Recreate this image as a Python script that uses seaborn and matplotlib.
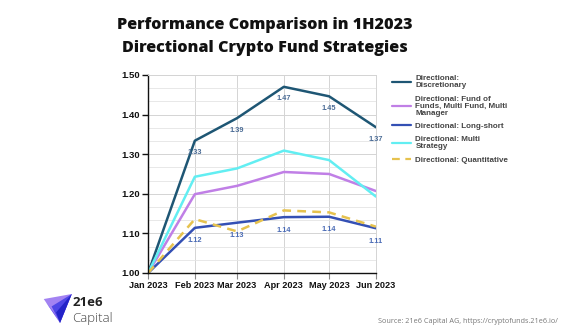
import matplotlib
matplotlib.use("Agg")
import matplotlib.pyplot as plt
from matplotlib.ticker import MultipleLocator
from matplotlib.patches import Polygon
import seaborn as sns
import pandas as pd
import numpy as np

months = ["2023-01-01", "2023-02-01", "2023-03-01", "2023-04-01", "2023-05-01", "2023-06-01"]
month_labels = ["Jan 2023", "Feb 2023", "Mar 2023", "Apr 2023", "May 2023", "Jun 2023"]
discretionary = [1.00, 1.334, 1.391, 1.470, 1.446, 1.368]
fund_of_funds = [1.00, 1.199, 1.220, 1.255, 1.250, 1.207]
long_short = [1.00, 1.114, 1.127, 1.141, 1.142, 1.113]
multi_strategy = [1.00, 1.243, 1.264, 1.309, 1.285, 1.193]
quantitative = [1.00, 1.136, 1.105, 1.158, 1.153, 1.117]
disc_labels = ["", "1.33", "1.39", "1.47", "1.45", "1.37"]
ls_labels = ["", "1.12", "1.13", "1.14", "1.14", "1.11"]

series_names = [
    "Directional:\nDiscretionary",
    "Directional: Fund of\nFunds, Multi Fund, Multi\nManager",
    "Directional: Long-short",
    "Directional: Multi\nStrategy",
    "Directional: Quantitative",
]
series_vals = [discretionary, fund_of_funds, long_short, multi_strategy, quantitative]
colors = ["#1e5674", "#c07fe6", "#3450b4", "#62eef2", "#e6c24e"]

dates = pd.to_datetime(months)
rows = []
for name, vals in zip(series_names, series_vals):
    for d, v in zip(dates, vals):
        rows.append({"date": d, "value": v, "series": name})
df = pd.DataFrame(rows)

sns.set_theme(style="white")
plt.rcParams['font.family'] = ['Liberation Sans', 'DejaVu Sans']

fig = plt.figure(figsize=(5.61, 3.36), dpi=100)
ax = fig.add_axes([0.264, 0.1875, 0.406, 0.5895])

dash_map = {n: "" for n in series_names}
dash_map[series_names[4]] = (3.5, 2.5)
sns.lineplot(data=df, x="date", y="value", hue="series", style="series",
             palette=dict(zip(series_names, colors)), dashes=dash_map,
             linewidth=1.8, ax=ax, legend=True)

ax.set_xlim(dates[0], dates[-1])
ax.set_ylim(1.0, 1.5)
ax.set_xticks(dates)
ax.set_xticklabels(month_labels, fontsize=6.6, fontweight="bold", color="#111111")
ax.yaxis.set_minor_locator(MultipleLocator(0.1 / 3))
ax.set_yticks(np.arange(1.0, 1.51, 0.1))
ax.set_yticklabels([f"{v:.2f}" for v in np.arange(1.0, 1.51, 0.1)],
                   fontsize=6.8, fontweight="bold", color="#111111")
ax.set_xlabel("")
ax.set_ylabel("")
ax.grid(True, which="major", color="#d4d4d4", linewidth=0.7)
ax.grid(True, which="minor", axis="y", color="#e4e4e4", linewidth=0.6)
ax.tick_params(axis="y", which="major", direction="out", length=4, width=1, color="#111111", pad=2)
ax.tick_params(axis="x", which="major", direction="out", length=4, width=0.8, color="#888888", pad=2)
ax.tick_params(which="minor", length=0)
ax.tick_params(axis="y", which="major", left=True)
ax.tick_params(axis="x", which="major", bottom=True)
for s in ["top", "right"]:
    ax.spines[s].set_color("#d4d4d4")
    ax.spines[s].set_linewidth(0.7)
ax.spines["left"].set_color("#111111")
ax.spines["bottom"].set_color("#111111")
ax.spines["left"].set_linewidth(1.0)
ax.spines["bottom"].set_linewidth(1.0)

for d, v, t in zip(dates, discretionary, disc_labels):
    if t:
        ax.annotate(t, (d, v), xytext=(0, -12), textcoords="offset pixels",
                    ha="center", va="center", fontsize=5.3, fontweight="bold", color="#4a6b95",
                    annotation_clip=False)
for d, v, t in zip(dates, long_short, ls_labels):
    if t:
        ax.annotate(t, (d, v), xytext=(0, -13), textcoords="offset pixels",
                    ha="center", va="center", fontsize=5.3, fontweight="bold", color="#4a6bb5",
                    annotation_clip=False)

handles, labels = ax.get_legend_handles_labels()
ax.legend_.remove()
leg = fig.legend(handles, labels, loc="upper left", bbox_to_anchor=(0.693, 0.785),
                 frameon=False, fontsize=5.8, handlelength=2.3, handletextpad=0.6,
                 labelspacing=0.75, borderaxespad=0)
for t in leg.get_texts():
    t.set_fontweight("bold")
    t.set_color("#444444")
    t.set_linespacing(1.0)
for h in leg.get_lines():
    h.set_linewidth(1.6)

fig.text(0.472, 0.925, "Performance Comparison in 1H2023", ha="center", va="center",
         fontsize=11.6, fontweight=800, family=["Open Sans", "DejaVu Sans"], color="#111111")
fig.text(0.472, 0.858, "Directional Crypto Fund Strategies", ha="center", va="center",
         fontsize=11.6, fontweight=800, family=["Open Sans", "DejaVu Sans"], color="#111111")

# logo
fig.patches.append(Polygon([[0.078, 0.110], [0.128, 0.125], [0.107, 0.039]], closed=True,
                           transform=fig.transFigure, facecolor="#a383f2", edgecolor="none"))
fig.patches.append(Polygon([[0.092, 0.088], [0.128, 0.125], [0.107, 0.039]], closed=True,
                           transform=fig.transFigure, facecolor="#4e46e6", edgecolor="none"))
fig.patches.append(Polygon([[0.082, 0.100], [0.096, 0.070], [0.107, 0.039]], closed=True,
                           transform=fig.transFigure, facecolor="#6a5af0", edgecolor="none"))
fig.patches.append(Polygon([[0.100, 0.070], [0.128, 0.125], [0.107, 0.039]], closed=True,
                           transform=fig.transFigure, facecolor="#2323c8", edgecolor="none"))
fig.text(0.130, 0.100, "21e6", ha="left", va="center", fontsize=9.5, fontweight="bold",
         family=["Open Sans", "DejaVu Sans"], color="#222222")
fig.text(0.128, 0.053, "Capital", ha="left", va="center", fontsize=9.5, fontweight="light",
         family=["Open Sans", "DejaVu Sans"], color="#444444")
fig.text(0.995, 0.042, "Source: 21e6 Capital AG, https://cryptofunds.21e6.io/", ha="right",
         va="center", fontsize=5.2, color="#777777", family=["Open Sans", "DejaVu Sans"])

fig.savefig("out.png", dpi=100, facecolor="white")
